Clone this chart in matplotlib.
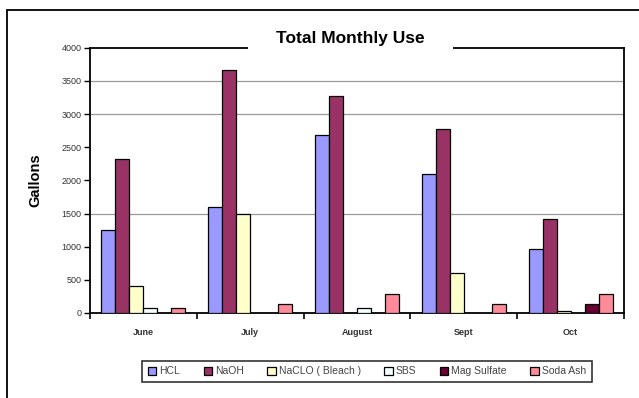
import matplotlib
matplotlib.use("Agg")
import matplotlib.pyplot as plt
import numpy as np
from matplotlib.patches import Rectangle

plt.rcParams["font.family"] = ["Liberation Sans", "DejaVu Sans"]

months = ["June", "July", "August", "Sept", "Oct"]
series_names = ["HCL", "NaOH", "NaCLO ( Bleach )", "SBS", "Mag Sulfate", "Soda Ash"]
hcl = [1250, 1600, 2680, 2100, 960]
naoh = [2320, 3660, 3270, 2780, 1420]
naclo = [400, 1500, 0, 600, 25]
sbs = [70, 0, 80, 0, 0]
mag_sulfate = [0, 0, 0, 0, 140]
soda_ash = [70, 140, 290, 140, 290]
colors = ["#9999ff", "#993366", "#ffffcc", "#f4ffff", "#660033", "#ff8a9a"]

W, H = 639, 398
fig = plt.figure(figsize=(W / 100, H / 100), dpi=100)
ax = fig.add_axes([90 / W, 1 - 313 / H, 534 / W, 265.3 / H])

x = np.arange(len(months))
bar_w = 0.131
all_series = [hcl, naoh, naclo, sbs, mag_sulfate, soda_ash]
for i, (name, vals, col) in enumerate(zip(series_names, all_series, colors)):
    offs = (i - 2.5) * bar_w
    vals = np.array(vals, dtype=float)
    # empty months get no bar outline
    ax.bar(x + offs, np.where(vals > 0, vals, np.nan), width=bar_w, color=col,
           edgecolor="black", linewidth=0.9, zorder=3)
    ax.bar([np.nan], [0], color=col, edgecolor="black", linewidth=0.9, label=name)

ax.set_xlim(-0.5, 4.5)
ax.set_ylim(0, 4000)
ax.set_yticks(np.arange(0, 4001, 500))
ax.set_yticklabels([str(v) for v in range(0, 4001, 500)], fontsize=6.5, color="#333333")
for gy in [1500, 3000, 3500]:
    ax.axhline(gy, color="#9a9a9a", linewidth=0.9, zorder=1)

ax.set_xticks(x)
ax.set_xticklabels(months, fontsize=6.5, fontweight="bold", color="#333333")
ax.tick_params(axis="x", which="major", length=0, pad=11)
ax.set_xticks(np.arange(-0.5, 4.6, 1.0), minor=True)
ax.tick_params(axis="x", which="minor", length=4, width=1.2, direction="out")
ax.tick_params(axis="y", length=4, width=1.0, direction="out", pad=2)
for sp in ax.spines.values():
    sp.set_linewidth(1.3)
    sp.set_color("black")

ax.set_ylabel("Gallons", fontsize=10.5, fontweight="bold", labelpad=14)

# gap in the top frame line behind the title
fig.patches.append(Rectangle((248 / W, 1 - 52 / H), 205 / W, 16 / H,
                             transform=fig.transFigure, facecolor="white",
                             edgecolor="none", zorder=5))
fig.text(350 / W, 1 - 39 / H, "Total Monthly Use", fontsize=12.5,
         fontweight="bold", ha="center", va="center", zorder=6)

# outer chart border
fig.patches.append(Rectangle((7 / W, -0.05), 1.1, 1 - 10 / H + 0.05,
                             transform=fig.transFigure, facecolor="none",
                             edgecolor="black", linewidth=1.3, zorder=1))

leg = fig.legend(loc="center", bbox_to_anchor=(367 / W, 1 - 371.5 / H), ncol=6,
                 fontsize=7.5, frameon=True, fancybox=False, handlelength=0.8,
                 handleheight=0.8, handletextpad=0.3, columnspacing=2.25,
                 borderpad=0.55)
leg.get_frame().set_edgecolor("black")
leg.get_frame().set_linewidth(1.2)
for t in leg.get_texts():
    t.set_color("#444444")

fig.savefig("out.png", dpi=100)
